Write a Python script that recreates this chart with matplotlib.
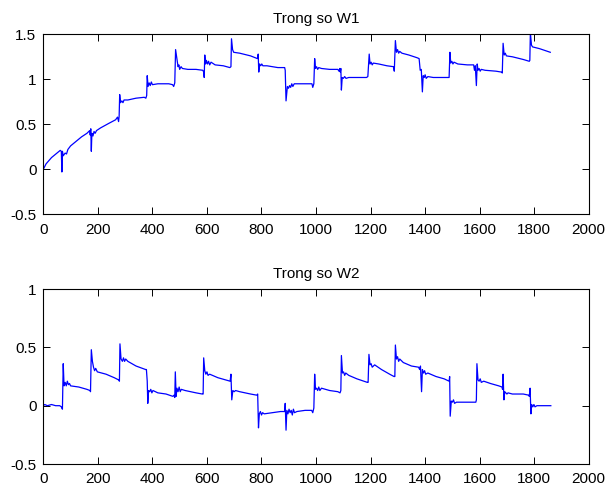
import matplotlib
matplotlib.use('Agg')
import matplotlib.pyplot as plt

# W1 (sample index vs weight)
w1_x = [0, 10, 30, 50, 62, 66, 68, 70, 73, 80, 85, 90, 100, 120, 140, 160, 170, 172, 174, 176, 178,
        182, 186, 190, 195, 210, 240, 265, 272, 276, 278, 280, 283, 288, 292, 296, 310, 340, 370, 376,
        379, 381, 384, 388, 392, 396, 400, 420, 440, 460, 474, 478, 482, 485, 490, 494, 497, 500, 505,
        510, 530, 560, 585, 588, 590, 592, 595, 598, 602, 606, 610, 615, 630, 660, 684, 688, 690, 694,
        698, 720, 760, 785, 788, 790, 793, 797, 801, 805, 820, 860, 885, 887, 890, 895, 899, 903, 907,
        911, 915, 920, 940, 970, 985, 988, 992, 995, 998, 1002, 1006, 1010, 1020, 1050, 1080, 1084,
        1087, 1089, 1091, 1093, 1096, 1100, 1105, 1110, 1120, 1150, 1185, 1190, 1195, 1198, 1202, 1206,
        1210, 1230, 1260, 1284, 1287, 1291, 1295, 1299, 1303, 1307, 1315, 1340, 1370, 1378, 1382, 1386,
        1390, 1393, 1397, 1400, 1404, 1410, 1430, 1460, 1488, 1491, 1494, 1498, 1502, 1506, 1520, 1555,
        1578, 1581, 1584, 1588, 1591, 1594, 1598, 1602, 1606, 1620, 1660, 1680, 1683, 1686, 1690, 1694,
        1698, 1720, 1760, 1782, 1784, 1786, 1790, 1794, 1820, 1859]
w1_y = [0.00, 0.06, 0.13, 0.18, 0.21, 0.20, -0.03, 0.20, 0.15, 0.18, 0.17, 0.22, 0.26, 0.31, 0.36,
        0.40, 0.43, 0.38, 0.45, 0.20, 0.40, 0.37, 0.42, 0.40, 0.43, 0.46, 0.51, 0.55, 0.58, 0.53, 0.59,
        0.83, 0.74, 0.76, 0.74, 0.77, 0.77, 0.79, 0.80, 0.79, 0.82, 1.04, 0.92, 0.96, 0.93, 0.97, 0.94,
        0.95, 0.95, 0.95, 0.94, 0.92, 0.96, 1.33, 1.22, 1.14, 1.16, 1.11, 1.14, 1.12, 1.11, 1.11, 1.10,
        1.08, 1.02, 1.27, 1.17, 1.21, 1.17, 1.20, 1.16, 1.19, 1.16, 1.15, 1.13, 1.14, 1.45, 1.33, 1.30,
        1.29, 1.26, 1.23, 1.28, 1.08, 1.17, 1.15, 1.17, 1.15, 1.15, 1.13, 1.13, 1.10, 0.76, 0.92, 0.90,
        0.93, 0.91, 0.95, 0.92, 0.95, 0.95, 0.95, 0.95, 0.91, 0.95, 1.23, 1.12, 1.14, 1.11, 1.13, 1.12,
        1.11, 1.11, 1.09, 1.12, 1.08, 1.12, 0.88, 1.02, 1.01, 1.03, 1.01, 1.02, 1.02, 1.02, 1.03, 1.28,
        1.17, 1.19, 1.16, 1.18, 1.17, 1.15, 1.14, 1.09, 1.43, 1.30, 1.33, 1.29, 1.31, 1.29, 1.27, 1.24,
        1.23, 1.10, 1.11, 0.86, 1.04, 1.02, 1.05, 1.01, 1.03, 1.02, 1.02, 1.02, 1.30, 1.18, 1.20, 1.17,
        1.19, 1.17, 1.16, 1.16, 1.10, 1.15, 0.93, 1.17, 1.10, 1.12, 1.09, 1.11, 1.10, 1.09, 1.08, 1.07,
        1.40, 1.27, 1.29, 1.26, 1.25, 1.22, 1.20, 1.21, 1.52, 1.38, 1.36, 1.34, 1.30]

# W2
w2_x = [0, 5, 15, 30, 45, 60, 66, 70, 73, 76, 80, 84, 88, 92, 96, 100, 130, 160, 171, 173, 176, 180,
        184, 188, 192, 198, 230, 260, 277, 279, 281, 285, 290, 294, 298, 302, 310, 340, 375, 378, 381,
        383, 386, 390, 394, 398, 402, 420, 450, 475, 479, 482, 484, 487, 490, 494, 498, 502, 506, 520,
        560, 583, 586, 588, 592, 596, 600, 604, 610, 640, 670, 685, 688, 691, 695, 700, 705, 720, 760,
        783, 786, 789, 792, 796, 800, 804, 810, 840, 870, 885, 887, 890, 893, 897, 901, 905, 909, 913,
        917, 921, 930, 960, 984, 988, 992, 995, 998, 1002, 1006, 1010, 1014, 1020, 1050, 1080, 1088,
        1091, 1093, 1097, 1101, 1105, 1109, 1120, 1150, 1188, 1191, 1194, 1198, 1202, 1206, 1215, 1240,
        1270, 1286, 1289, 1291, 1295, 1299, 1303, 1307, 1320, 1350, 1376, 1380, 1383, 1387, 1390, 1394,
        1398, 1402, 1410, 1440, 1470, 1488, 1490, 1492, 1496, 1500, 1504, 1508, 1515, 1550, 1586, 1588,
        1590, 1594, 1598, 1602, 1606, 1615, 1640, 1670, 1682, 1684, 1686, 1689, 1692, 1696, 1700, 1704,
        1720, 1760, 1780, 1782, 1785, 1788, 1791, 1795, 1799, 1803, 1810, 1840, 1861]
w2_y = [0.00, 0.01, 0.00, 0.01, 0.00, 0.00, -0.01, -0.03, 0.36, 0.17, 0.20, 0.17, 0.21, 0.18, 0.19,
        0.17, 0.16, 0.14, 0.13, 0.12, 0.48, 0.38, 0.33, 0.30, 0.32, 0.29, 0.27, 0.24, 0.22, 0.21, 0.53,
        0.40, 0.38, 0.41, 0.38, 0.40, 0.38, 0.34, 0.31, 0.31, 0.21, 0.02, 0.13, 0.12, 0.14, 0.11, 0.13,
        0.11, 0.10, 0.08, 0.09, 0.07, 0.29, 0.08, 0.15, 0.12, 0.16, 0.12, 0.14, 0.13, 0.11, 0.10, 0.10,
        0.41, 0.30, 0.27, 0.29, 0.26, 0.27, 0.24, 0.22, 0.21, 0.27, 0.05, 0.13, 0.12, 0.13, 0.12, 0.10,
        0.09, 0.10, -0.19, -0.07, -0.05, -0.08, -0.06, -0.07, -0.06, -0.05, -0.05, 0.02, -0.21, -0.04,
        -0.07, -0.03, -0.06, -0.04, -0.08, -0.03, -0.06, -0.05, -0.04, -0.04, -0.06, -0.02, 0.27, 0.14,
        0.15, 0.13, 0.16, 0.13, 0.15, 0.13, 0.12, 0.11, 0.13, 0.43, 0.28, 0.29, 0.26, 0.28, 0.26, 0.23,
        0.20, 0.20, 0.44, 0.35, 0.36, 0.33, 0.35, 0.31, 0.27, 0.25, 0.25, 0.52, 0.40, 0.42, 0.38, 0.40,
        0.37, 0.34, 0.33, 0.31, 0.34, 0.12, 0.31, 0.28, 0.30, 0.27, 0.28, 0.25, 0.23, 0.21, 0.25, -0.09,
        0.04, 0.03, 0.05, 0.02, 0.03, 0.03, 0.03, 0.05, 0.36, 0.22, 0.21, 0.23, 0.20, 0.21, 0.19, 0.17,
        0.16, 0.14, 0.27, 0.05, 0.12, 0.11, 0.10, 0.11, 0.10, 0.10, 0.09, 0.08, 0.15, -0.07, 0.01, -0.01,
        0.01, -0.01, 0.00, 0.00, 0.00]

titles = ['Trong so W1', 'Trong so W2']
ylims = [(-0.5, 1.5), (-0.5, 1)]
yticks = [[-0.5, 0, 0.5, 1, 1.5], [-0.5, 0, 0.5, 1]]
ytick_labels = [['-0.5', '0', '0.5', '1', '1.5'], ['-0.5', '0', '0.5', '1']]
xticks = [0, 200, 400, 600, 800, 1000, 1200, 1400, 1600, 1800, 2000]

plt.rcParams['font.family'] = ['Liberation Sans', 'DejaVu Sans']
plt.rcParams['font.size'] = 11

fig = plt.figure(figsize=(6.06, 4.87), dpi=100)
ax1 = fig.add_axes([0.0715, 0.560, 0.900, 0.3696])
ax2 = fig.add_axes([0.0715, 0.0472, 0.900, 0.3593])

for ax, xs, ys, t, yl, yt, ytl in zip([ax1, ax2], [w1_x, w2_x], [w1_y, w2_y], titles, ylims,
                                        yticks, ytick_labels):
    ax.plot(xs, ys, color='#0000ff', lw=0.9)
    ax.set_xlim(0, 2000)
    ax.set_ylim(*yl)
    ax.set_xticks(xticks)
    ax.set_xticklabels([str(v) for v in xticks])
    ax.set_yticks(yt)
    ax.set_yticklabels(ytl)
    ax.tick_params(direction='in', length=5, width=0.7, top=True, right=True)
    ax.tick_params(axis='x', pad=6)
    ax.tick_params(axis='y', pad=5)
    for s in ax.spines.values():
        s.set_linewidth(0.8)
    ax.set_title(t, fontsize=11, pad=8)

fig.savefig('out.png', dpi=100)
